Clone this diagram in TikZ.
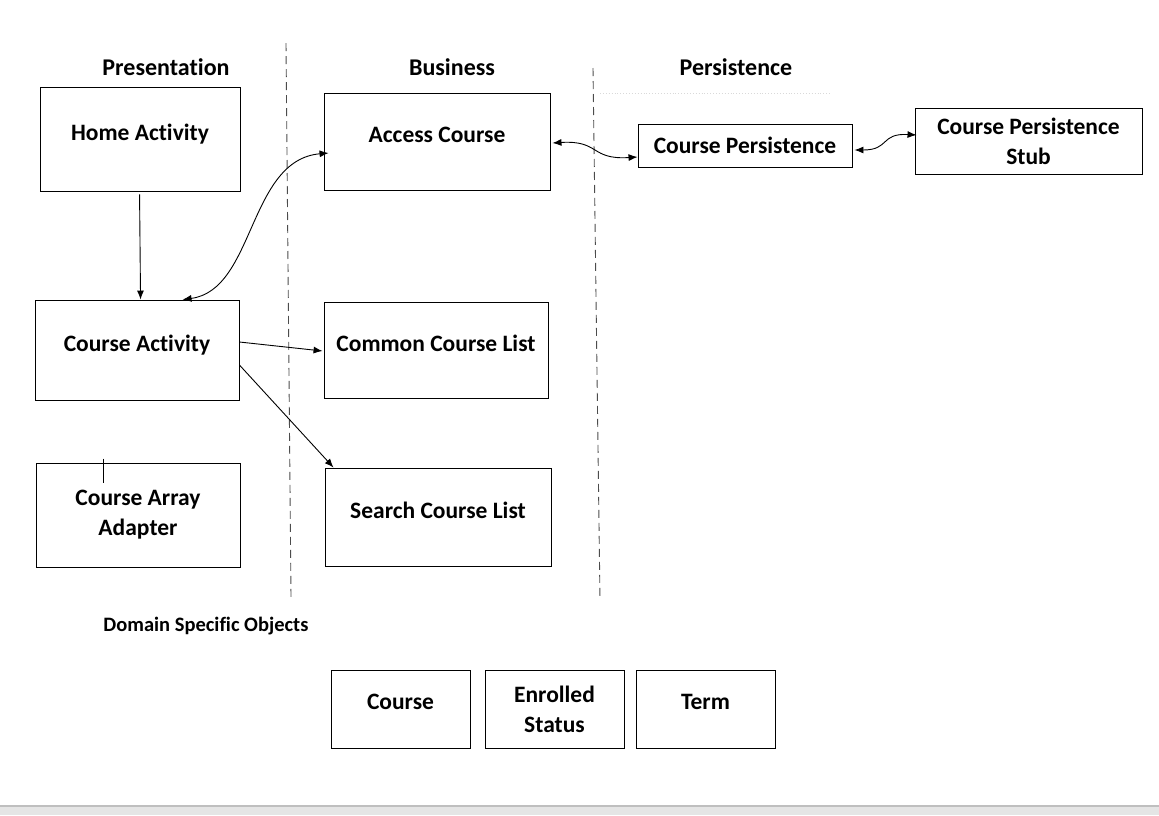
\documentclass[tikz,border=0pt]{standalone}
\usepackage{fontspec}
\setmainfont{Carlito}[Ligatures={NoCommon}]
\usetikzlibrary{arrows.meta}

\begin{document}
\begin{tikzpicture}[x=1pt,y=-1pt,
    box/.style={draw,line width=0.9pt,align=center,inner sep=0pt,
        font=\fontsize{23.5}{30}\selectfont\bfseries},
    oneline/.style={box,text depth=14pt},
    head/.style={font=\fontsize{24}{28}\selectfont\bfseries},
    layer/.style={draw=black!70,line width=0.9pt,dash pattern=on 8pt off 5pt},
    >={Latex[length=9pt,width=7pt]},
    every path/.style={line width=0.9pt}]
\useasboundingbox (0,0) rectangle (1159,815);
\fill[black!10] (0,806) rectangle (1159,815);
\draw[black!25,line width=1.2pt] (0,806) -- (1159,806);

\node (presentation) at (166,67) [head] {Presentation};
\node (business) at (452,67) [head] {Business};
\node (persistence) at (736,67) [head] {Persistence};
\node (domain) at (103,626) [anchor=west,inner sep=0pt,font=\fontsize{20.5}{24}\selectfont\bfseries] {Domain Specific Objects};

\draw[layer] (286,43) -- (291,597);
\draw[layer] (593,68) -- (600,600);
\draw[black!15,dotted,line width=0.6pt] (600,93) -- (830,93);

\node (home) at (140,139) [oneline,minimum width=200pt,minimum height=104pt] {Home Activity};
\node (access) at (437,141.5) [oneline,minimum width=226pt,minimum height=97pt] {Access Course};
\node (coursepers) at (745,145.5) [box,minimum width=214pt,minimum height=43pt] {Course Persistence};
\node (stub) at (1028.5,141) [box,minimum width=227pt,minimum height=66pt] {Course Persistence\\Stub};
\node (courseact) at (137,350) [oneline,minimum width=204pt,minimum height=100pt] {Course Activity};
\node (common) at (436,350) [oneline,minimum width=224pt,minimum height=96pt] {Common Course List};
\node (adapter) at (138,515) [box,minimum width=204pt,minimum height=104pt] {Course Array\\Adapter};
\node (search) at (438,517) [oneline,minimum width=226pt,minimum height=98pt] {Search Course List};
\node (course) at (400.5,709) [oneline,minimum width=139pt,minimum height=78pt] {Course};
\node (enrolled) at (554.5,709) [box,minimum width=139pt,minimum height=78pt] {Enrolled\\Status};
\node (term) at (705.5,709) [oneline,minimum width=139pt,minimum height=78pt] {Term};

\draw (adapter.north west) ++(68,-4) coordinate (tick) -- ++(0,24);

\path[->]
    ([xshift=100pt,yshift=-3pt]home.south west) edge ([xshift=106pt]courseact.north west)
    ([yshift=8pt]courseact.east) edge ([yshift=-1pt,xshift=-1pt]common.west)
    ([yshift=-15pt]courseact.east) edge ([xshift=9pt]search.north west);

\draw[<->] ([xshift=148pt]courseact.north west)
    .. controls (255,290) and (248,160) .. ([yshift=-11.5pt,xshift=5pt]access.west);
\draw[<->] ([xshift=2pt,yshift=-1.5pt]access.east)
    .. controls (600,140) and (590,160) .. ([yshift=-11.5pt]coursepers.west);
\draw[<->] ([xshift=2pt,yshift=-4.5pt]coursepers.east)
    .. controls (890,150) and (880,133) .. ([xshift=2pt,yshift=6pt]stub.west);
\end{tikzpicture}
\end{document}
